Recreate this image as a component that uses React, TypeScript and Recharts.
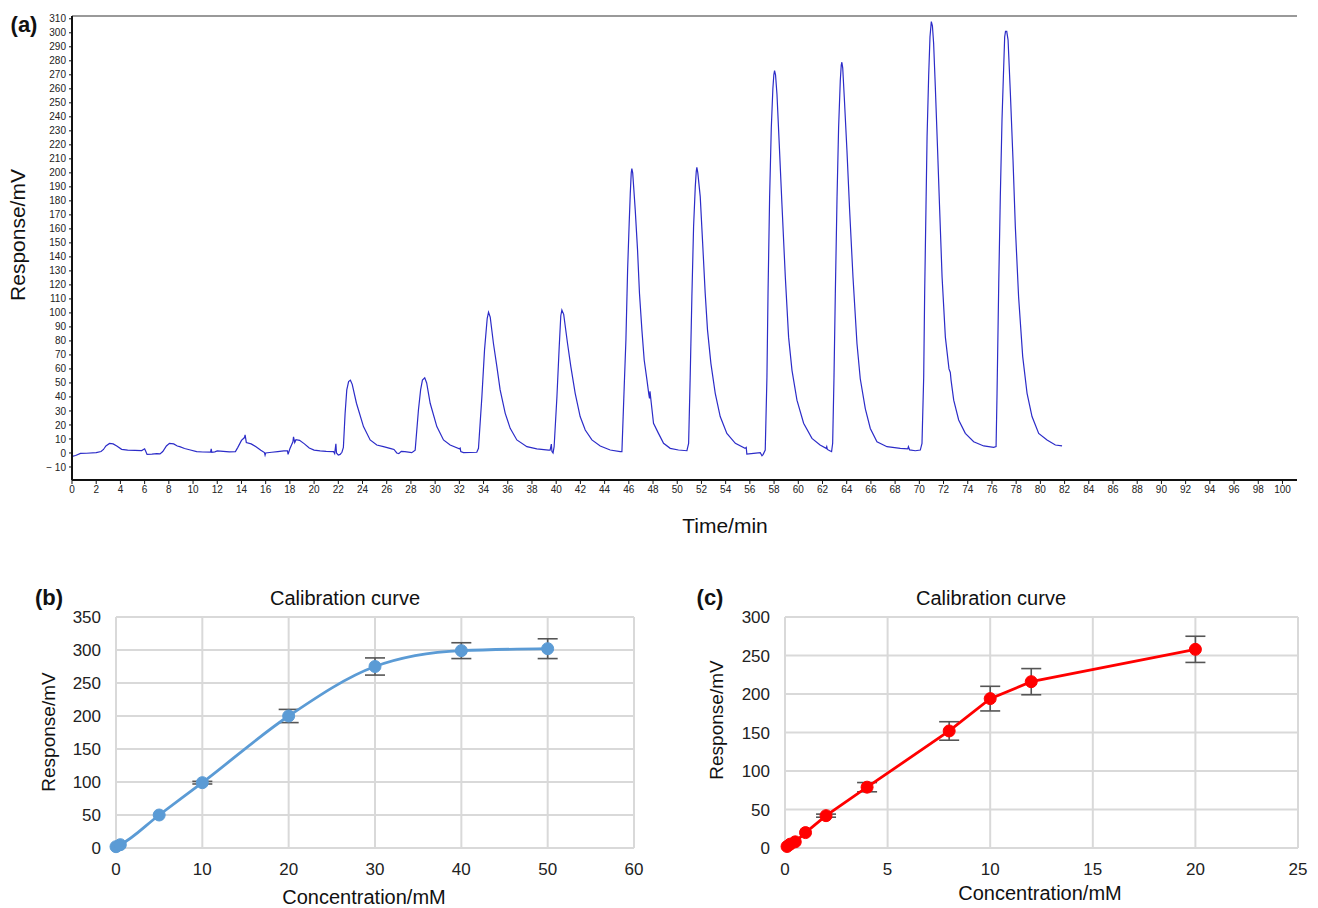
import React from "react";
import {
  LineChart,
  Line,
  XAxis,
  YAxis,
  CartesianGrid,
  ErrorBar,
  ReferenceLine,
} from "recharts";

// (a) chromatogram: [time/min, response/mV]
const trace: [number, number][] = [
  [0, -2.5], [0.3, -1.8], [0.7, -0.3], [1.2, -0.2], [2, 0.2], [2.4, 1], [2.6, 2.5], [2.8, 5], [3.1, 6.8], [3.4, 6.5],
  [3.7, 5], [4.1, 2.6], [4.6, 2], [5.2, 1.8], [5.76, 1.7], [6.0, 3], [6.1, 1], [6.2, -1], [6.6, -0.8], [7, -0.5],
  [7.27, -0.7], [7.5, 1], [7.8, 5], [8.05, 6.9], [8.4, 6.5], [8.7, 5], [8.9, 4.5], [9.3, 3.2], [9.7, 2.3], [10.3, 1],
  [10.8, 0.7], [11.45, 0.6], [11.5, 2.9], [11.55, 0.5], [11.8, 0.8], [12.0, 1.5], [12.5, 1.2], [13, 0.8], [13.5, 1], [13.7, 4],
  [14.0, 9], [14.25, 11], [14.3, 13], [14.4, 7.5], [14.8, 6.5], [15.2, 4.5], [15.6, 2], [15.9, 0.3], [15.95, -1.5], [16.0, 0],
  [16.5, 0.5], [17, 1], [17.5, 1.5], [17.8, 1.5], [17.85, -1], [18.0, 3], [18.25, 8], [18.3, 11.5], [18.4, 7.5], [18.5, 9.5],
  [18.8, 9], [19.2, 6.5], [19.6, 3.5], [20, 2], [20.5, 1.5], [21, 1.2], [21.6, 1], [21.7, -0.5], [21.8, 6.5], [21.85, 0],
  [22.0, -1.5], [22.15, -1],
  [22.3, 0.5], [22.42, 4], [22.56, 28], [22.7, 45], [22.85, 51], [23.0, 52], [23.15, 49], [23.5, 35.5], [24.08, 18.8], [24.63, 9.3],
  [25.18, 5.7], [25.73, 4.5], [26.42, 2.9], [26.6, 2.5], [26.83, 0], [27.0, -0.5], [27.2, 1.2], [27.5, 1], [28.07, 0.2],
  [28.35, 2], [28.62, 30.7], [28.8, 45], [28.95, 52], [29.14, 53.6], [29.3, 50], [29.59, 35.5], [30.14, 18.8], [30.69, 9.3], [31.24, 5.7],
  [32.0, 3], [32.07, 3.5], [32.12, 1], [32.34, 0.3], [33.44, 0.5],
  [33.58, 3.3], [33.86, 40], [34.08, 73.6], [34.3, 96], [34.41, 100.5], [34.55, 97], [34.82, 78], [35.1, 61.7], [35.37, 45], [35.79, 28.3],
  [36.2, 17.6], [36.75, 9.3], [37.58, 4.5], [38.4, 2.9], [39.36, 2.1], [39.5, 2], [39.6, 6.4], [39.65, 1], [39.74, 0],
  [39.83, 4.5], [40.06, 40], [40.25, 75.9], [40.38, 98], [40.47, 102], [40.62, 99], [40.94, 78], [41.21, 61.7], [41.57, 42.6], [41.98, 26],
  [42.4, 16.4], [42.95, 9.3], [43.64, 5], [44.46, 2.1], [45.29, 1],
  [45.43, 1], [45.62, 47.4], [45.76, 80.7], [45.9, 130.7], [46.03, 164], [46.12, 185], [46.2, 200], [46.25, 203], [46.32, 200], [46.4, 190],
  [46.53, 173.6], [46.72, 145], [46.88, 114], [47.08, 87.9], [47.27, 66.4], [47.5, 52], [47.65, 42], [47.71, 39], [47.75, 44], [47.85, 36],
  [48.04, 21.2], [48.45, 14], [48.87, 6.9], [49.42, 3.3], [50.1, 2.1], [50.8, 1.6],
  [50.94, 6.9], [51.07, 54], [51.21, 111.6], [51.35, 161.6], [51.49, 190], [51.57, 201], [51.62, 204], [51.7, 200], [51.9, 183], [52.1, 149.8],
  [52.31, 114], [52.5, 87.9], [52.78, 64], [53.14, 42.6], [53.55, 26], [54.1, 14], [54.8, 6.9], [55.6, 3.3], [55.7, 4], [55.75, -0.8],
  [56.3, -0.3], [56.86, 0.2], [57.0, -2], [57.1, -1],
  [57.27, 2.1], [57.41, 54], [57.5, 114], [57.63, 182], [57.77, 232], [57.9, 260], [57.98, 270], [58.04, 273], [58.12, 270], [58.24, 256],
  [58.43, 220], [58.65, 177.6], [58.93, 125.4], [59.2, 82.7], [59.48, 59], [59.89, 37.7], [60.44, 21.2], [61.13, 10.4], [61.8, 5.7], [62.3, 3.3],
  [62.35, 4.5], [62.4, 2.5], [62.6, 1.6], [62.75, 1],
  [62.84, 6.9], [62.95, 54], [63.06, 114], [63.2, 182], [63.33, 232], [63.47, 266], [63.55, 277], [63.6, 279], [63.67, 275], [63.8, 254],
  [64.02, 216], [64.24, 173.6], [64.52, 125.4], [64.85, 78], [65.12, 53], [65.54, 31.5], [65.95, 17.5], [66.5, 8], [67.33, 4.5], [68.43, 3.3],
  [69.05, 3], [69.1, 4.5], [69.2, 2.2], [69.67, 1.6], [70.08, 2.1],
  [70.22, 6.9], [70.36, 54], [70.44, 114], [70.55, 176], [70.64, 226], [70.77, 269], [70.88, 297], [70.99, 308], [71.08, 305], [71.18, 292.6],
  [71.32, 261.6], [71.51, 216], [71.68, 173.6], [71.88, 125.4], [72.15, 82.7], [72.45, 60], [72.56, 57.5], [72.62, 52], [72.84, 37.7], [73.25, 23.6],
  [73.8, 14], [74.49, 8], [75.32, 5], [76.14, 4],
  [76.34, 4.5], [76.42, 42.6], [76.56, 121], [76.69, 183], [76.83, 238], [76.97, 276], [77.05, 297], [77.12, 301], [77.22, 301], [77.33, 295],
  [77.52, 257], [77.74, 209], [77.93, 161.6], [78.2, 111.6], [78.54, 68.8], [78.9, 42.6], [79.31, 26], [79.86, 14], [80.55, 9.3], [81.24, 5.7],
  [81.79, 5],
];

const timeTicks = [
  0, 2, 4, 6, 8, 10, 12, 14, 16, 18, 20, 22, 24, 26, 28, 30, 32, 34, 36, 38, 40, 42, 44, 46, 48, 50,
  52, 54, 56, 58, 60, 62, 64, 66, 68, 70, 72, 74, 76, 78, 80, 82, 84, 86, 88, 90, 92, 94, 96, 98, 100,
];
const mvTicks = [
  -10, 0, 10, 20, 30, 40, 50, 60, 70, 80, 90, 100, 110, 120, 130, 140, 150, 160,
  170, 180, 190, 200, 210, 220, 230, 240, 250, 260, 270, 280, 290, 300, 310,
];

// (b) calibration, high range
const concB = [0, 0.5, 5, 10, 20, 30, 40, 50];
const respB = [2, 5, 50, 99, 200, 275, 299, 302];
const errB = [0, 0, 0, 2, 10, 13, 12, 15];
const xTicksB = [0, 10, 20, 30, 40, 50, 60];
const yTicksB = [0, 50, 100, 150, 200, 250, 300, 350];

// (c) calibration, low range
const concC = [0.1, 0.25, 0.5, 1, 2, 4, 8, 10, 12, 20];
const respC = [2, 5, 8, 20, 42, 79, 152, 194, 216, 258];
const errC = [0, 0, 0, 0, 2, 6, 12, 16, 17, 17];
const xTicksC = [0, 5, 10, 15, 20, 25];
const yTicksC = [0, 50, 100, 150, 200, 250, 300];

const traceData = trace.map(([t, v]) => ({ t, v }));
const dataB = concB.map((x, i) => ({ x, y: respB[i], err: errB[i] }));
const dataC = concC.map((x, i) => ({ x, y: respC[i], err: errC[i] }));

// minor tick marks on the chromatogram axes
const minorTime: number[] = [];
for (let t = 0; t <= 101; t += 0.5) minorTime.push(t);
const minorMv: number[] = [];
for (let v = -18; v <= 310; v += 2) minorMv.push(v);

const FONT = "'Liberation Sans', Arial, Helvetica, sans-serif";

function Txt({ x, y, size, bold, rotate, children }: any) {
  return (
    <div
      style={{
        position: "absolute",
        left: x,
        top: y,
        fontSize: size,
        fontWeight: bold ? 700 : 400,
        whiteSpace: "nowrap",
        color: "#111",
        lineHeight: 1,
        transform: `translate(-50%, -50%)${rotate ? " rotate(-90deg)" : ""}`,
      }}
    >
      {children}
    </div>
  );
}

function Calibration({ data, color, curve, xDomain, xTicks, yDomain, yTicks, yAxisWidth, width, right }: any) {
  const tickStyle = { fontSize: 17, fill: "#222" };
  return (
    <LineChart width={width} height={348} data={data} margin={{ top: 57, right, left: 0, bottom: 0 }}>
      <CartesianGrid stroke="#d9d9d9" strokeWidth={2} />
      <XAxis
        type="number"
        dataKey="x"
        domain={xDomain}
        ticks={xTicks}
        axisLine={false}
        tickLine={false}
        tick={tickStyle}
        tickMargin={9}
        height={60}
        interval={0}
      />
      <YAxis
        type="number"
        domain={yDomain}
        ticks={yTicks}
        axisLine={false}
        tickLine={false}
        tick={tickStyle}
        tickMargin={9}
        width={yAxisWidth}
        interval={0}
      />
      <Line
        type={curve}
        dataKey="y"
        stroke={color}
        strokeWidth={2.8}
        dot={{ r: 6, fill: color, stroke: color, strokeWidth: 1 }}
        isAnimationActive={false}
      >
        <ErrorBar dataKey="err" width={10} stroke="#555" strokeWidth={1.6} />
      </Line>
    </LineChart>
  );
}

export default function App() {
  const smallTick = { fontSize: 10, fill: "#222" };
  return (
    <div style={{ position: "absolute", left: 0, top: 0, width: 1318, height: 908, background: "#fff", fontFamily: FONT }}>
      <div style={{ position: "absolute", left: 0, top: 0 }}>
        <LineChart width={1318} height={545} data={traceData} margin={{ top: 16, right: 21, left: 0, bottom: 0 }}>
          <XAxis
            xAxisId="minor"
            type="number"
            dataKey="t"
            domain={[0, 101.2]}
            ticks={minorTime}
            allowDataOverflow
            axisLine={false}
            tickSize={2}
            tickLine={{ stroke: "#333" }}
            tickFormatter={() => ""}
            height={0}
            interval={0}
          />
          <XAxis
            type="number"
            dataKey="t"
            domain={[0, 101.2]}
            ticks={timeTicks}
            allowDataOverflow
            axisLine={{ stroke: "#111", strokeWidth: 2 }}
            tickLine={{ stroke: "#111" }}
            tickSize={4}
            tickMargin={2}
            tick={smallTick}
            height={65}
            interval={0}
          />
          <YAxis
            yAxisId="minor"
            type="number"
            domain={[-19.3, 312]}
            ticks={minorMv}
            allowDataOverflow
            axisLine={false}
            tickSize={2}
            tickLine={{ stroke: "#333" }}
            tickFormatter={() => ""}
            width={0}
            interval={0}
          />
          <YAxis
            type="number"
            domain={[-19.3, 312]}
            ticks={mvTicks}
            allowDataOverflow
            axisLine={{ stroke: "#111", strokeWidth: 2 }}
            tickLine={{ stroke: "#111" }}
            tickSize={3}
            tickMargin={3}
            tick={smallTick}
            width={72}
            interval={0}
            tickFormatter={(v: number) => (v < 0 ? `\u2212 ${Math.abs(v)}` : String(v))}
          />
          <ReferenceLine y={312} stroke="#999" strokeWidth={2} />
          <Line
            type="linear"
            dataKey="v"
            stroke="#2c2cc8"
            strokeWidth={1.2}
            dot={false}
            isAnimationActive={false}
          />
        </LineChart>
      </div>
      <Txt x={24} y={25} size={22} bold>(a)</Txt>
      <Txt x={17} y={235} size={21} rotate>Response/mV</Txt>
      <Txt x={725} y={525} size={21}>Time/min</Txt>

      <div style={{ position: "absolute", left: 0, top: 560 }}>
        <Calibration
          data={dataB}
          color="#5b9bd5"
          curve="monotone"
          xDomain={[0, 60]}
          xTicks={xTicksB}
          yDomain={[0, 350]}
          yTicks={yTicksB}
          yAxisWidth={116}
          width={660}
          right={26}
        />
      </div>
      <Txt x={49} y={598} size={22} bold>(b)</Txt>
      <Txt x={345} y={598} size={20}>Calibration curve</Txt>
      <Txt x={48} y={732} size={19} rotate>Response/mV</Txt>
      <Txt x={364} y={897} size={20}>Concentration/mM</Txt>

      <div style={{ position: "absolute", left: 660, top: 560 }}>
        <Calibration
          data={dataC}
          color="#ff0000"
          curve="linear"
          xDomain={[0, 25]}
          xTicks={xTicksC}
          yDomain={[0, 300]}
          yTicks={yTicksC}
          yAxisWidth={125}
          width={658}
          right={20}
        />
      </div>
      <Txt x={710} y={598} size={22} bold>(c)</Txt>
      <Txt x={991} y={598} size={20}>Calibration curve</Txt>
      <Txt x={716} y={720} size={19} rotate>Response/mV</Txt>
      <Txt x={1040} y={893} size={20}>Concentration/mM</Txt>
    </div>
  );
}
